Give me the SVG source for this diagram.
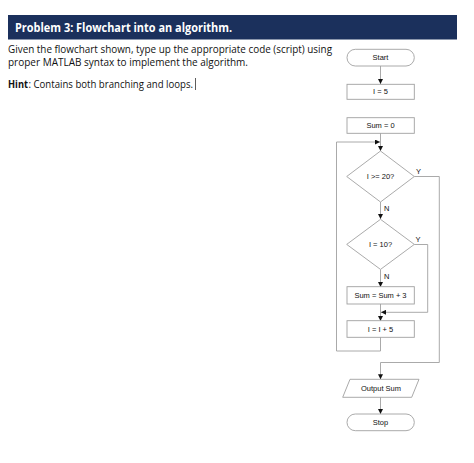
<svg xmlns="http://www.w3.org/2000/svg" width="474" height="463" viewBox="0 0 474 463">
<defs>
<marker id="ah" viewBox="0 0 6 6" refX="6" refY="3" markerWidth="5" markerHeight="5" orient="auto" markerUnits="userSpaceOnUse">
<path d="M0,0 L6,3 L0,6 z" fill="#111"/>
</marker>
<style>
.shape{fill:#fff;stroke:#a0a0a0;stroke-width:0.9}
.lbl{font-family:"Liberation Sans",Arial,sans-serif;font-size:7.5px;fill:#111;text-anchor:middle;dominant-baseline:central}
.arr{fill:none;stroke:#a0a0a0;stroke-width:0.9;marker-end:url(#ah)}
.body{font-family:"Open Sans","Liberation Sans",sans-serif;font-size:10px;fill:#111}
</style>
</defs>
<rect width="474" height="463" fill="#fff"/>
<g id="header">
<rect x="8" y="15" width="449" height="24.5" fill="#1b305c"/>
<text x="15" y="32" font-family="Open Sans,Liberation Sans,sans-serif" font-weight="bold" font-size="13" fill="#fff" textLength="217" lengthAdjust="spacingAndGlyphs">Problem 3: Flowchart into an algorithm.</text>
</g>
<g id="text">
<text class="body" x="8" y="53" textLength="324" lengthAdjust="spacingAndGlyphs">Given the flowchart shown, type up the appropriate code (script) using</text>
<text class="body" x="8" y="66" textLength="240" lengthAdjust="spacingAndGlyphs">proper MATLAB syntax to  implement the algorithm.</text>
<text class="body" x="8" y="88" font-weight="bold" textLength="20" lengthAdjust="spacingAndGlyphs">Hint</text>
<text class="body" x="28.5" y="88" textLength="164.5" lengthAdjust="spacingAndGlyphs">: Contains both branching and loops.</text>
<line x1="195.5" y1="78" x2="195.5" y2="90" stroke="#333" stroke-width="0.8"/>
</g>
<g id="connectors">
<line class="arr" x1="380.5" y1="66" x2="380.5" y2="84"/>
<line class="arr" x1="380.5" y1="133" x2="380.5" y2="151"/>
<line class="arr" x1="380.5" y1="202" x2="380.5" y2="219"/>
<line class="arr" x1="380.5" y1="269.5" x2="380.5" y2="287"/>
<line class="arr" x1="380.5" y1="304" x2="380.5" y2="321"/>
<line class="arr" x1="380.5" y1="397" x2="380.5" y2="414"/>
<polyline class="arr" points="380.5,337 380.5,351 336.5,351 336.5,142 380,142"/>
<polyline class="arr" points="414.3,176.5 439.3,176.5 439.3,362.5 380.5,362.5 380.5,379.3"/>
<polyline class="arr" points="414.3,244.5 427.7,244.5 427.7,312.3 381,312.3"/>
<text class="lbl" x="418.5" y="171">Y</text>
<text class="lbl" x="386.7" y="208">N</text>
<text class="lbl" x="418" y="239">Y</text>
<text class="lbl" x="386.7" y="276">N</text>
</g>
<g id="start">
<rect class="shape" x="347" y="49.3" width="67.3" height="16.7" rx="8.3"/>
<text class="lbl" x="380.5" y="57.7">Start</text>
</g>
<g id="i5">
<rect class="shape" x="347" y="84.3" width="67.3" height="15"/>
<text class="lbl" x="380.5" y="91.8">I = 5</text>
</g>
<g id="sum0">
<rect class="shape" x="347" y="117.7" width="67.3" height="15.6"/>
<text class="lbl" x="380.5" y="125.5">Sum = 0</text>
</g>
<g id="dec1">
<polygon class="shape" points="380.5,151 414.3,176.5 380.5,202 346.7,176.5"/>
<text class="lbl" x="380.5" y="176.5">I &gt;= 20?</text>
</g>
<g id="dec2">
<polygon class="shape" points="380.5,219.3 414.3,244.4 380.5,269.4 346.7,244.4"/>
<text class="lbl" x="380.5" y="244.4">I = 10?</text>
</g>
<g id="sum3">
<rect class="shape" x="347" y="286.7" width="67.3" height="17.3"/>
<text class="lbl" x="380.5" y="295.3">Sum = Sum + 3</text>
</g>
<g id="iplus5">
<rect class="shape" x="347" y="320.7" width="67.3" height="16.6"/>
<text class="lbl" x="380.5" y="329">I = I + 5</text>
</g>
<g id="output">
<polygon class="shape" points="350,379.3 419,379.3 411.7,397.3 342.7,397.3"/>
<text class="lbl" x="381" y="388.3">Output Sum</text>
</g>
<g id="stop">
<rect class="shape" x="347" y="414" width="67.3" height="16.7" rx="8.3"/>
<text class="lbl" x="380.5" y="422.4">Stop</text>
</g>
</svg>
